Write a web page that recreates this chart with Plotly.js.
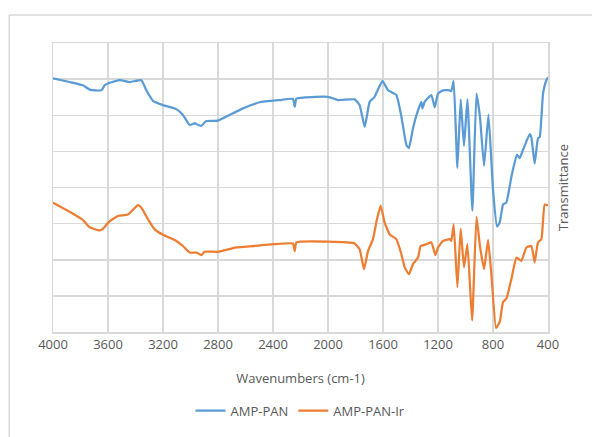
<!DOCTYPE html>
<html>
<head>
<meta charset="utf-8">
<script src="https://cdn.plot.ly/plotly-3.0.1.min.js"></script>
<style>html,body{margin:0;padding:0;background:#fff;}#chart{width:592px;height:437px;}</style>
</head>
<body>
<div id="chart"></div>
<script>
var seriesNames = ["AMP-PAN", "AMP-PAN-Ir"];
var xTicks = [4000, 3600, 3200, 2800, 2400, 2000, 1600, 1200, 800, 400];

var ampPanWn = [4000,3879,3782,3733,3648,3624,3588,3515,3442,3357,3321,3273,3200,3103,3055,3006,2969,2945,2921,2884,2800,2715,2618,2497,2351,2255,2242,2230,2000,1927,1806,1770,1733,1697,1661,1604,1564,1503,1466,1430,1411,1382,1345,1321,1313,1297,1248,1224,1200,1164,1115,1103,1086,1059,1035,1011,986,950,920,895,865,833,800,771,751,727,703,666,626,606,582,533,521,497,473,460,436,412,400];
var ampPanT = [70.2,69.2,68.3,67.1,66.9,68.3,69.0,69.7,69.2,69.7,66.9,64.0,62.8,61.7,60.1,57.3,57.8,57.3,57.1,58.4,58.5,60.1,61.9,63.6,64.2,64.5,62.3,64.6,65.1,64.2,64.4,62.8,56.8,63.7,65.1,69.5,66.9,65.6,59.6,51.8,50.9,56.4,61.4,63.7,61.9,63.7,65.6,62.2,66.0,66.9,66.9,66.7,69.5,45.4,64.4,51.5,64.4,33.6,66.0,59.6,46.0,60.2,39.4,29.2,30.3,35.3,35.8,43.0,49.1,48.1,50.4,54.8,53.9,46.6,53.6,54.0,66.0,69.7,70.5];

var ampPanIrWn = [4000,3879,3782,3738,3660,3636,3588,3527,3455,3382,3357,3309,3260,3200,3103,3055,3006,2957,2921,2897,2800,2667,2545,2400,2255,2242,2230,2000,1806,1770,1738,1709,1673,1644,1617,1588,1551,1503,1466,1442,1411,1382,1345,1326,1285,1248,1219,1200,1164,1115,1103,1086,1059,1035,1011,986,952,920,895,865,836,811,778,751,727,703,666,630,594,557,521,497,473,448,424,400];
var ampPanIrT = [35.8,33.3,31.0,29.1,28.1,28.6,30.7,32.1,32.5,35.1,34.4,31.2,28.4,26.9,25.2,23.8,22.0,22.0,21.3,22.2,22.2,23.4,23.8,24.3,24.5,22.4,24.8,25.0,24.5,22.9,17.4,22.4,25.7,31.2,35.0,30.3,27.0,25.7,21.5,17.9,16.0,18.8,20.6,23.8,24.3,24.8,21.3,23.4,25.2,25.7,25.2,29.8,12.4,28.6,17.9,24.3,3.2,31.9,23.8,17.4,25.5,15.6,1.1,2.8,8.3,9.2,14.7,20.6,19.7,23.4,23.8,19.3,24.8,25.7,35.3,35.0];

var font = "'Open Sans', 'Liberation Sans', sans-serif";
var grey = "#595959";
var grid = "#d9d9d9";

var traces = [
  {x: ampPanWn, y: ampPanT, name: seriesNames[0], type: "scatter", mode: "lines",
   line: {color: "#5b9bd5", width: 2.25, shape: "spline", smoothing: 0.4}},
  {x: ampPanIrWn, y: ampPanIrT, name: seriesNames[1], type: "scatter", mode: "lines",
   line: {color: "#ed7d31", width: 2.25, shape: "spline", smoothing: 0.4}}
];

var layout = {
  width: 592, height: 437,
  margin: {l: 53, r: 44, t: 43, b: 104},
  paper_bgcolor: "#fff", plot_bgcolor: "#fff",
  font: {family: font, color: grey, size: 13},
  showlegend: true,
  legend: {orientation: "h", x: 0.5, xanchor: "center", y: -0.268, yanchor: "middle",
           font: {family: font, size: 13, color: grey}},
  xaxis: {
    range: [4000, 400], tickmode: "array", tickvals: xTicks, ticktext: xTicks.map(String),
    showgrid: true, gridcolor: grid, gridwidth: 1.5,
    showline: true, linecolor: grid, linewidth: 1.5, mirror: true,
    zeroline: false, ticks: "", ticklen: 0,
    tickfont: {family: font, size: 13, color: grey},
    title: {text: "Wavenumbers (cm-1)", font: {family: font, size: 13, color: grey}, standoff: 22}
  },
  yaxis: {
    range: [0, 80], dtick: 10, tick0: 0, side: "right",
    showticklabels: false, showgrid: true, gridcolor: grid, gridwidth: 1.5,
    showline: true, linecolor: grid, linewidth: 1.5, mirror: true,
    zeroline: false, ticks: "",
    title: {text: "Transmittance", font: {family: font, size: 13, color: grey}, standoff: 10}
  },
  shapes: [
    {type: "line", xref: "paper", yref: "paper", x0: -0.0885, x1: -0.0885, y0: -0.5, y1: 1.097,
     line: {color: grid, width: 1.5}},
    {type: "line", xref: "paper", yref: "paper", x0: -0.0885, x1: 1.3, y0: 1.097, y1: 1.097,
     line: {color: grid, width: 1.5}}
  ]
};

Plotly.newPlot("chart", traces, layout, {displayModeBar: false, staticPlot: true});
</script>
</body>
</html>
